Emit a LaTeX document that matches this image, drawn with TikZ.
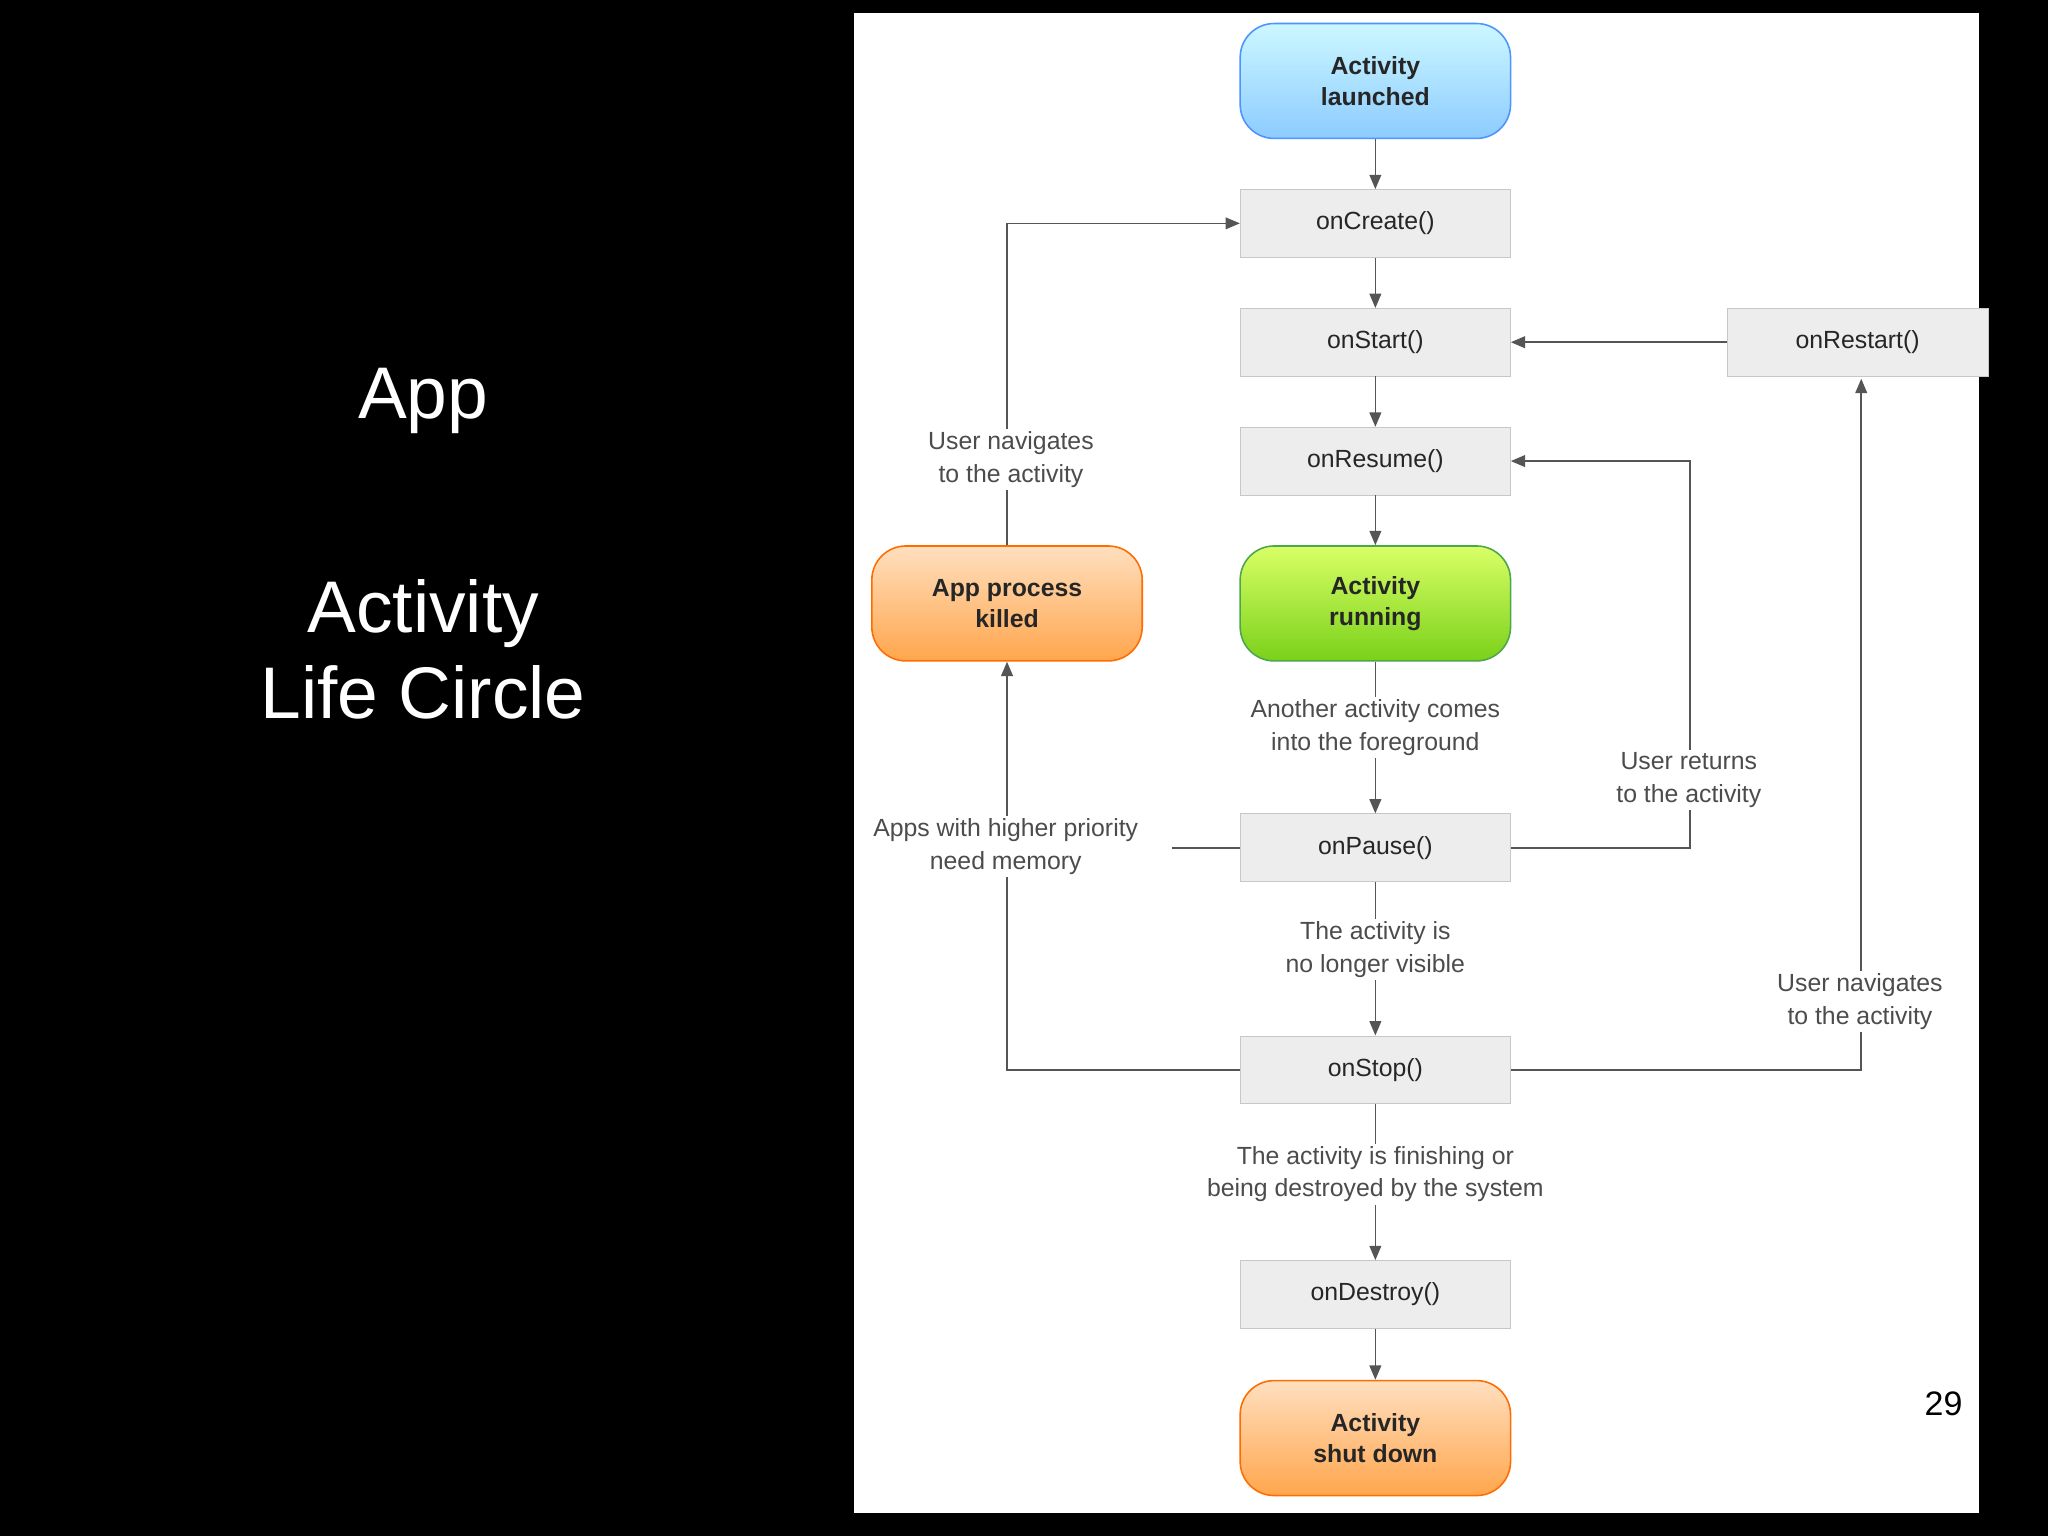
\documentclass[tikz,border=0pt]{standalone}
\usepackage{fontspec}
\setmainfont{Liberation Sans}
\usetikzlibrary{arrows.meta}
\definecolor{ln}{HTML}{555555}
\begin{document}
\begin{tikzpicture}[x=1pt,y=-1pt,
 box/.style={draw=black!22,fill=black!7,minimum width=207pt,minimum height=52pt,inner sep=0pt,font=\fontsize{19}{21}\selectfont,text=black!85},
 pill/.style={rounded corners=26pt,minimum width=207pt,minimum height=88pt,inner sep=0pt,line width=1.2pt,align=center,font=\bfseries\fontsize{19}{24}\selectfont,text=black!85},
 blue/.style={pill,draw=blue!60!cyan!70,top color=blue!15!cyan!20,bottom color=blue!45!cyan!45},
 green/.style={pill,draw=green!50!black!70,top color=lime!60!white,bottom color=lime!70!green!80!black!90},
 orange/.style={pill,draw=orange!85!red,top color=orange!25,bottom color=orange!70},
 lbl/.style={fill=white,align=center,inner sep=2pt,font=\fontsize{19}{25}\selectfont,text=black!70},
 arr/.style={draw=ln,line width=1.3pt,-{Triangle[length=11pt,width=9pt]}},
 ln/.style={draw=ln,line width=1.3pt}]
\fill[black] (0,0) rectangle (1568,1176);
\fill[white] (654,10) rectangle (1515,1158);
\node[text=white,font=\fontsize{56}{70}\selectfont] (app) at (324,307) {App};
\node[text=white,font=\fontsize{56}{66}\selectfont,align=center] (alc) at (324,497) {Activity\\Life Circle};
\node[font=\fontsize{26}{30}\selectfont] (pg) at (1488,1075) {29};
\node[blue] (la) at (1053,62) {Activity\\launched};
\node[box] (cr) at (1053,171) {onCreate()};
\node[box] (st) at (1053,262) {onStart()};
\node[box] (re) at (1053,353) {onResume()};
\node[green] (ru) at (1053,462) {Activity\\running};
\node[box] (pa) at (1053,649) {onPause()};
\node[box] (so) at (1053,819) {onStop()};
\node[box] (de) at (1053,991) {onDestroy()};
\node[orange] (sd) at (1053,1101) {Activity\\shut down};
\node[orange] (ki) at (771,462) {App process\\killed};
\node[box,minimum width=200pt,anchor=west] (rs) at (1322,262) {onRestart()};
\begin{scope}
\clip (654,10) rectangle (1515,1158);
\end{scope}
\draw[arr] (la) -- (cr);
\draw[arr] (cr) -- (st);
\draw[arr] (st) -- (re);
\draw[arr] (re) -- (ru);
\draw[arr] (ru) -- (pa);
\draw[arr] (pa) -- (so);
\draw[arr] (so) -- (de);
\draw[arr] (de) -- (sd);
\draw[arr] (rs) -- (st);
\draw[arr] (ki.north) |- (cr.west);
\draw[arr] (so.west) -| (ki.south);
\draw[ln] (pa.west) -- (897,649);
\draw[arr] (pa.east) -- (1294,649) |- (re.east);
\draw[arr] (so.east) -- (1425,819) -- (1425,290);
\node[lbl] (l1) at (774,352) {User navigates\\to the activity};
\node[lbl] (l2) at (770,648) {Apps with higher priority\\need memory};
\node[lbl] (l3) at (1053,557) {Another activity comes\\into the foreground};
\node[lbl] (l4) at (1053,727) {The activity is\\no longer visible};
\node[lbl] (l5) at (1053,899) {The activity is finishing or\\being destroyed by the system};
\node[lbl] (l6) at (1293,597) {User returns\\to the activity};
\node[lbl] (l7) at (1424,767) {User navigates\\to the activity};
\end{tikzpicture}
\end{document}
